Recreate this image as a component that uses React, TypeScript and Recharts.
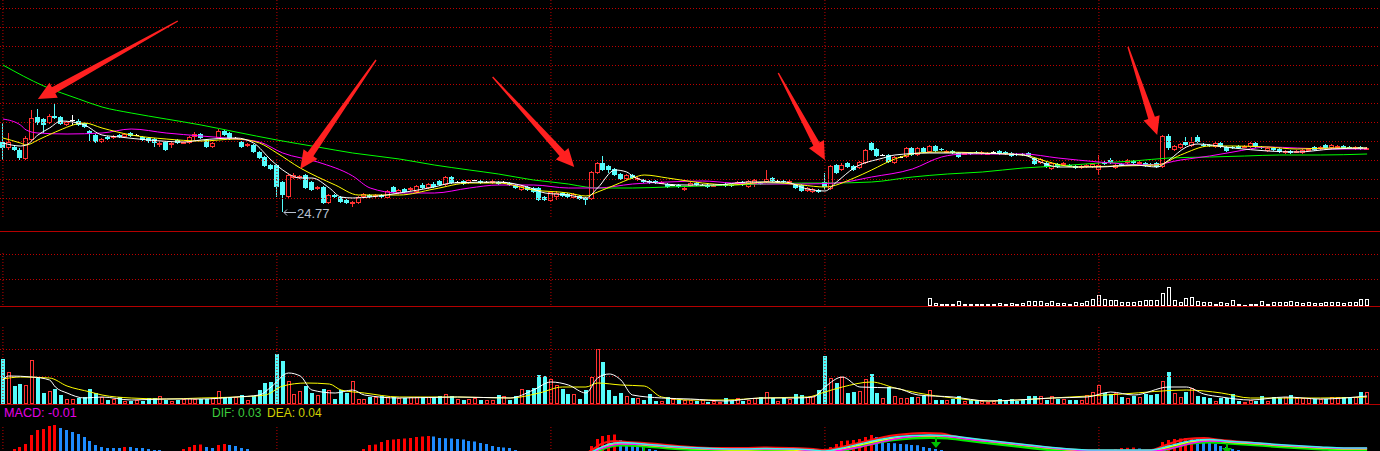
import React from 'react'
import { ComposedChart, Bar, Line, XAxis, YAxis, ReferenceLine, ReferenceDot } from 'recharts'

const W = 1380
const RED = '#ff3232'
const CYAN = '#54fcfc'
const FLAT = '#ffffff'
const GRID = '#c00000'
const SOLID = '#b40000'
const ARROW = '#ff2020'
const MACD_UP = '#ff0000'
const MACD_DOWN = '#1e8cff'
const SIGNAL = '#00c000'
const LABEL = '#b8c0d0'

// daily candles: [open, high, low, close]
const CANDLES: number[][] = [
  [31.8, 33.7, 30.0, 31.2], [31.2, 32.7, 31.0, 31.8], [31.3, 31.4, 30.9, 31.0], [31.0, 31.2, 30.0, 30.2], [30.1, 32.4, 30.0, 32.2],
  [32.0, 35.0, 31.9, 34.2], [34.3, 35.1, 33.5, 33.7], [34.1, 34.2, 32.7, 33.5], [33.7, 34.6, 33.6, 34.4], [34.4, 35.6, 34.1, 34.2],
  [34.3, 34.4, 33.5, 33.6], [33.5, 33.9, 33.4, 33.8], [34.0, 34.5, 33.5, 34.0], [33.9, 34.1, 33.4, 33.5], [33.7, 33.8, 33.2, 33.3],
  [32.9, 33.0, 31.9, 32.6], [32.5, 32.6, 31.7, 31.8], [31.8, 32.2, 31.7, 32.1], [32.3, 32.4, 32.0, 32.1], [32.2, 32.5, 32.1, 32.4],
  [32.5, 32.6, 32.2, 32.3], [32.3, 32.7, 32.2, 32.6], [32.7, 32.8, 32.3, 32.4], [32.5, 32.6, 32.4, 32.5], [32.3, 32.4, 31.9, 32.0],
  [32.2, 32.3, 31.7, 31.9], [32.1, 32.2, 31.3, 31.7], [31.5, 31.8, 31.3, 31.7], [31.8, 31.9, 30.9, 31.0], [31.5, 31.8, 31.2, 31.7],
  [32.0, 32.1, 31.6, 31.7], [31.7, 31.9, 31.6, 31.8], [31.7, 32.4, 31.6, 32.3], [32.3, 32.8, 32.0, 32.6], [32.6, 32.7, 32.1, 32.2],
  [32.0, 32.1, 31.2, 31.3], [31.3, 31.8, 31.2, 31.7], [32.2, 33.1, 32.1, 32.9], [32.9, 33.0, 32.4, 32.5], [32.7, 32.8, 32.0, 32.1],
  [32.2, 32.3, 32.1, 32.2], [31.8, 31.9, 31.2, 31.3], [31.4, 31.7, 31.3, 31.6], [31.5, 31.6, 30.7, 30.8], [30.8, 30.9, 30.1, 30.2],
  [30.3, 30.4, 29.3, 29.4], [29.5, 29.6, 29.0, 29.1], [29.5, 29.6, 26.3, 27.3], [27.8, 27.9, 24.77, 26.5], [26.3, 28.6, 26.2, 28.5],
  [28.2, 28.7, 28.1, 28.5], [28.2, 28.5, 28.1, 28.4], [28.5, 28.6, 27.1, 27.2], [27.8, 27.9, 26.9, 27.0], [27.1, 27.4, 27.0, 27.3],
  [27.3, 27.4, 25.6, 25.7], [25.7, 26.6, 25.6, 26.5], [26.5, 26.6, 26.2, 26.3], [26.3, 26.4, 25.7, 25.8], [26.0, 26.1, 25.6, 25.7],
  [25.6, 25.9, 25.3, 25.8], [25.7, 26.4, 25.6, 26.3], [26.3, 26.7, 26.2, 26.6], [26.5, 26.6, 26.2, 26.3], [26.3, 26.6, 26.2, 26.5],
  [26.5, 26.6, 26.2, 26.3], [26.2, 27.0, 26.1, 26.9], [27.3, 27.4, 26.7, 26.8], [26.7, 27.1, 26.6, 27.0], [27.1, 27.2, 26.7, 26.8],
  [27.0, 27.3, 26.9, 27.2], [26.8, 27.5, 26.7, 27.4], [27.5, 27.7, 27.1, 27.2], [27.2, 27.7, 27.1, 27.6], [27.6, 27.8, 27.2, 27.3],
  [27.9, 28.0, 27.4, 27.5], [27.5, 28.4, 27.4, 28.3], [28.3, 28.4, 27.6, 27.7], [27.8, 27.9, 27.7, 27.8], [27.9, 28.0, 27.5, 27.6],
  [27.7, 28.1, 27.6, 28.0], [28.0, 28.1, 27.9, 28.0], [27.9, 28.0, 27.6, 27.7], [27.8, 27.9, 27.7, 27.8], [27.7, 28.0, 27.6, 27.9],
  [27.8, 27.9, 27.5, 27.6], [27.8, 27.9, 27.7, 27.8], [27.7, 27.8, 27.4, 27.5], [27.5, 27.6, 27.1, 27.2], [27.0, 27.5, 26.9, 27.4],
  [27.3, 27.4, 26.9, 27.0], [27.2, 27.3, 26.7, 26.8], [27.2, 27.3, 25.9, 26.0], [26.3, 26.4, 25.9, 26.0], [25.9, 26.9, 25.8, 26.8],
  [26.3, 26.9, 26.0, 26.7], [26.7, 26.8, 26.3, 26.4], [26.6, 26.7, 26.2, 26.3], [26.2, 26.7, 26.1, 26.6], [26.4, 26.5, 26.0, 26.1],
  [26.2, 26.3, 25.5, 26.0], [26.1, 28.9, 26.0, 28.8], [28.7, 29.8, 28.6, 29.7], [29.7, 30.4, 28.9, 29.0], [29.4, 29.5, 28.7, 29.0],
  [29.1, 29.2, 28.4, 28.5], [28.6, 28.7, 28.0, 28.1], [28.1, 28.6, 28.0, 28.5], [28.5, 28.6, 28.1, 28.2], [28.0, 28.3, 27.9, 28.2],
  [28.0, 28.1, 27.7, 27.8], [27.9, 28.0, 27.6, 27.7], [27.9, 28.0, 27.6, 27.7], [27.7, 27.9, 27.6, 27.8], [27.6, 27.7, 27.2, 27.3],
  [27.5, 27.6, 27.4, 27.5], [27.5, 27.6, 27.2, 27.3], [27.0, 27.3, 26.9, 27.2], [27.4, 27.8, 27.3, 27.7], [27.7, 27.8, 27.4, 27.5],
  [27.5, 27.6, 27.4, 27.5], [27.5, 27.6, 27.2, 27.3], [27.4, 27.6, 27.3, 27.5], [27.5, 27.6, 27.4, 27.5], [27.6, 27.7, 27.3, 27.4],
  [27.5, 27.6, 27.3, 27.4], [27.6, 27.9, 27.5, 27.8], [27.8, 27.9, 27.4, 27.5], [27.3, 28.0, 27.2, 27.9], [27.6, 28.1, 27.3, 28.0],
  [27.7, 27.8, 27.5, 27.6], [27.8, 29.0, 27.7, 28.1], [28.2, 28.3, 27.8, 27.9], [27.9, 28.0, 27.8, 27.9], [27.9, 28.0, 27.7, 27.8],
  [27.8, 28.0, 27.7, 27.9], [27.5, 27.6, 27.1, 27.2], [27.5, 27.6, 26.8, 26.9], [26.9, 27.3, 26.8, 27.2], [26.8, 27.2, 26.7, 27.1],
  [27.0, 27.1, 26.7, 26.8], [27.8, 28.7, 27.0, 27.3], [27.1, 29.5, 27.0, 29.4], [29.5, 29.6, 28.6, 28.7], [29.0, 29.7, 28.9, 29.5],
  [29.7, 29.8, 29.2, 29.3], [29.4, 29.5, 28.9, 29.0], [29.2, 29.9, 29.1, 29.8], [29.7, 31.1, 29.6, 31.0], [31.7, 31.8, 30.9, 31.0],
  [31.1, 31.2, 30.3, 30.4], [30.5, 30.6, 30.4, 30.5], [30.5, 30.6, 29.7, 29.8], [29.7, 30.4, 29.6, 30.3], [30.3, 30.4, 30.2, 30.3],
  [30.3, 31.3, 30.2, 31.2], [31.2, 31.3, 30.4, 30.5], [30.5, 31.3, 30.4, 31.2], [31.2, 31.3, 30.7, 30.8], [30.8, 31.5, 30.7, 31.4],
  [31.4, 31.5, 30.8, 30.9], [31.1, 31.2, 30.9, 31.0], [30.8, 31.0, 30.7, 30.9], [30.9, 31.0, 30.6, 30.7], [30.7, 30.8, 30.2, 30.3],
  [30.6, 30.8, 30.5, 30.7], [30.7, 30.8, 30.5, 30.6], [30.8, 30.9, 30.6, 30.7], [30.6, 30.9, 30.5, 30.8], [30.6, 30.8, 30.5, 30.7],
  [30.8, 30.9, 30.7, 30.8], [30.9, 31.0, 30.5, 30.6], [30.8, 30.9, 30.5, 30.6], [30.7, 30.8, 30.3, 30.4], [30.6, 30.7, 30.4, 30.5],
  [30.6, 30.7, 30.4, 30.5], [30.7, 30.8, 30.3, 30.4], [30.2, 30.3, 29.5, 29.6], [29.7, 30.2, 29.6, 30.1], [29.7, 29.8, 29.2, 29.3],
  [29.1, 29.8, 29.0, 29.7], [29.6, 29.7, 29.2, 29.3], [29.5, 29.8, 29.4, 29.7], [29.5, 29.6, 29.3, 29.4], [29.4, 29.5, 29.1, 29.2],
  [29.2, 29.5, 29.1, 29.4], [29.3, 29.6, 29.2, 29.5], [29.3, 29.7, 29.2, 29.6], [29.0, 30.5, 28.5, 29.5], [29.8, 29.9, 29.5, 29.6],
  [30.0, 30.2, 29.6, 29.7], [29.2, 29.6, 29.1, 29.5], [29.6, 29.7, 29.4, 29.5], [29.7, 30.1, 29.6, 30.0], [29.9, 30.0, 29.6, 29.7],
  [29.7, 29.9, 29.6, 29.8], [29.7, 29.8, 29.3, 29.4], [29.6, 29.7, 29.4, 29.5], [29.7, 29.8, 29.2, 29.3], [29.3, 32.5, 29.2, 32.4],
  [32.4, 32.6, 31.0, 31.2], [31.0, 31.5, 30.9, 31.4], [31.2, 31.7, 31.1, 31.6], [31.8, 32.3, 31.4, 31.5], [31.4, 32.3, 31.3, 31.8],
  [32.3, 32.5, 31.7, 31.8], [31.5, 31.7, 31.3, 31.4], [31.5, 31.6, 31.3, 31.4], [31.3, 31.8, 31.2, 31.7], [31.7, 31.8, 31.2, 31.3],
  [31.3, 31.4, 30.8, 30.9], [31.3, 31.4, 31.1, 31.2], [31.4, 31.5, 31.1, 31.2], [31.3, 31.5, 31.2, 31.4], [31.3, 31.8, 31.2, 31.7],
  [31.7, 31.8, 31.2, 31.3], [31.3, 31.4, 31.1, 31.2], [30.9, 31.3, 30.8, 31.2], [31.2, 31.3, 30.9, 31.0], [31.1, 31.2, 30.7, 30.8],
  [30.7, 31.0, 30.6, 30.9], [30.9, 31.0, 30.6, 30.7], [30.8, 31.0, 30.7, 30.9], [30.7, 31.1, 30.6, 31.0], [31.0, 31.2, 30.9, 31.1],
  [31.3, 31.4, 30.9, 31.0], [31.1, 31.4, 31.0, 31.3], [31.5, 31.6, 31.1, 31.2], [31.2, 31.6, 31.1, 31.5], [31.3, 31.5, 31.2, 31.4],
  [31.4, 31.5, 31.1, 31.2], [31.3, 31.4, 31.1, 31.2], [31.1, 31.4, 31.0, 31.3], [31.3, 31.4, 31.0, 31.1], [31.1, 31.3, 31.0, 31.2],
]

const VOLUME = [
  45, 32, 18, 20, 19, 44, 26, 11, 13, 15,
  9, 5, 5, 6, 7, 15, 11, 7, 4, 5,
  7, 3, 3, 4, 3, 6, 6, 8, 4, 3,
  4, 5, 6, 5, 5, 5, 6, 13, 7, 6,
  7, 9, 4, 8, 14, 21, 22, 50, 43, 23,
  10, 13, 18, 11, 9, 15, 14, 5, 14, 11,
  23, 5, 5, 7, 7, 8, 7, 7, 6, 6,
  7, 7, 7, 7, 7, 8, 10, 8, 5, 4,
  5, 6, 4, 4, 4, 9, 8, 4, 8, 15,
  14, 16, 29, 28, 25, 19, 15, 10, 10, 5,
  14, 27, 55, 42, 14, 8, 11, 8, 6, 6,
  4, 10, 3, 3, 7, 5, 4, 4, 4, 3,
  4, 2, 3, 2, 6, 3, 6, 3, 4, 6,
  7, 12, 6, 3, 6, 5, 10, 9, 7, 8,
  14, 48, 26, 21, 27, 11, 12, 13, 25, 30,
  11, 6, 17, 8, 6, 6, 7, 7, 8, 14,
  4, 4, 4, 5, 8, 3, 4, 4, 3, 2,
  3, 5, 3, 5, 3, 4, 8, 8, 8, 4,
  8, 5, 5, 4, 4, 4, 9, 12, 19, 11,
  10, 11, 7, 6, 8, 7, 10, 9, 10, 23,
  32, 11, 7, 12, 16, 8, 7, 6, 3, 6,
  6, 10, 3, 2, 4, 3, 8, 3, 7, 6,
  7, 9, 6, 6, 6, 5, 5, 5, 7, 7,
  7, 7, 7, 12, 12,
]

// second indicator pane (white hollow bars), starts at candle 159
const AUX_START = 159
const AUX = [
  7.7, 2.7, 1.7, 2, 2, 5, 2, 2, 2, 2,
  2, 2, 2.7, 2, 2.7, 2, 2.7, 5, 5, 5,
  2.7, 5, 2.7, 2.7, 2, 3.7, 2.7, 5, 7, 11,
  7, 6, 6, 3.7, 3.7, 3.7, 5, 6, 6, 6,
  12.7, 18.7, 6, 3.7, 7.7, 8.7, 5, 3.7, 3.7, 2,
  3.7, 2.7, 6, 2, 1, 2, 2, 5, 2, 3.7,
  3.7, 3.7, 5, 3.7, 2.7, 3.7, 2.7, 2.7, 3.7, 3.7,
  3.7, 2.7, 3.7, 3.7, 6.7, 6.7,
]

const MACD = [
  -0.02, 0.0, 0.03, 0.05, 0.08, 0.17, 0.22, 0.23, 0.26, 0.27,
  0.24, 0.22, 0.2, 0.18, 0.15, 0.11, 0.07, 0.05, 0.04, 0.04,
  0.04, 0.05, 0.05, 0.04, 0.04, 0.03, 0.02, 0.02, 0.01, 0.0,
  0.01, 0.03, 0.05, 0.07, 0.075, 0.05, 0.04, 0.07, 0.08, 0.07,
  0.06, 0.04, 0.03, 0.01, -0.01, -0.04, -0.06, -0.1, -0.14, -0.15,
  -0.16, -0.16, -0.17, -0.17, -0.16, -0.16, -0.14, -0.12, -0.1, -0.08,
  -0.05, -0.02, 0.03, 0.07, 0.075, 0.1, 0.12, 0.125, 0.13, 0.135,
  0.14, 0.15, 0.155, 0.16, 0.155, 0.14, 0.138, 0.135, 0.13, 0.125,
  0.11, 0.105, 0.09, 0.08, 0.06, 0.05, 0.045, 0.04, 0.02, 0.01,
  -0.01, -0.03, -0.06, -0.08, -0.08, -0.09, -0.09, -0.08, -0.07, -0.06,
  -0.05, 0.06, 0.13, 0.16, 0.17, 0.175, 0.12, 0.1, 0.09, 0.07,
  0.05, 0.03, 0.02, 0.0, -0.01, -0.02, -0.03, -0.03, -0.04, -0.04,
  -0.04, -0.05, -0.05, -0.05, -0.05, -0.05, -0.05, -0.04, -0.04, -0.04,
  -0.04, -0.03, -0.03, -0.04, -0.05, -0.06, -0.07, -0.07, -0.07, -0.06,
  -0.05, -0.02, 0.05, 0.08, 0.11, 0.115, 0.12, 0.13, 0.15, 0.17,
  0.15, 0.12, 0.09, 0.088, 0.08, 0.078, 0.07, 0.068, 0.05, 0.04,
  0.03, 0.02, 0.005, -0.01, -0.02, -0.03, -0.04, -0.05, -0.05, -0.06,
  -0.06, -0.06, -0.06, -0.05, -0.05, -0.05, -0.05, -0.06, -0.06, -0.07,
  -0.07, -0.07, -0.06, -0.06, -0.05, -0.04, -0.03, -0.02, -0.01, 0.0,
  0.02, 0.03, 0.04, 0.042, 0.045, 0.035, 0.02, 0.0, -0.01, 0.1,
  0.12, 0.13, 0.135, 0.138, 0.14, 0.13, 0.12, 0.09, 0.08, 0.06,
  0.05, 0.03, 0.02, 0.0, -0.01, -0.02, -0.03, -0.03, -0.04, -0.04,
  -0.04, -0.05, -0.05, -0.05, -0.04, -0.04, -0.04, -0.03, -0.03, -0.03,
  -0.03, -0.02, -0.02, -0.02, -0.02,
]

// moving averages read at sample days: [day, value]
const MA5 = [[0, 31.7], [3, 31.4], [4, 31.5], [6, 32.5], [8, 33.2], [10, 33.9], [12, 33.8], [14, 33.5], [17, 32.5], [20, 32.3], [25, 32.0], [31, 31.8], [34, 32.0], [40, 32.2], [43, 31.7], [46, 30.0], [48, 29.0], [51, 28.2], [53, 28.2], [56, 27.2], [58, 26.3], [60, 26.2], [63, 26.3], [68, 26.7], [74, 27.3], [77, 27.7], [85, 27.8], [90, 27.3], [93, 26.7], [97, 26.5], [100, 26.2], [102, 27.2], [105, 29.0], [107, 28.8], [108, 28.4], [111, 27.8], [117, 27.5], [122, 27.5], [128, 27.8], [134, 27.8], [138, 27.1], [141, 26.9], [143, 27.8], [146, 29.2], [151, 30.2], [153, 30.5], [159, 30.7], [165, 30.7], [175, 30.5], [178, 29.8], [181, 29.3], [188, 29.3], [194, 29.5], [198, 29.3], [200, 30.0], [203, 31.3], [205, 31.6], [211, 31.2], [217, 30.9], [222, 30.8], [228, 31.1], [234, 31.2]]
const MA10 = [[0, 32.2], [3, 31.7], [4, 31.5], [6, 32.0], [9, 32.8], [14, 33.7], [17, 33.2], [22, 32.5], [28, 32.1], [34, 31.9], [40, 32.1], [44, 31.7], [47, 30.7], [51, 29.2], [54, 28.3], [57, 27.5], [61, 26.5], [68, 26.5], [74, 27.1], [80, 27.7], [85, 27.7], [91, 27.0], [97, 26.7], [100, 26.4], [102, 26.8], [105, 27.5], [108, 28.2], [110, 28.5], [114, 28.2], [120, 27.7], [125, 27.5], [131, 27.8], [137, 27.5], [141, 27.3], [146, 28.2], [149, 29.0], [153, 30.1], [157, 30.7], [161, 30.8], [168, 30.7], [175, 30.5], [180, 29.7], [184, 29.3], [191, 29.4], [198, 29.5], [202, 30.5], [207, 31.4], [211, 31.4], [217, 31.3], [222, 31.1], [228, 31.2], [234, 31.2]]
const MA20 = [[0, 34.1], [3, 33.5], [4, 33.0], [6, 32.7], [11, 32.6], [17, 32.7], [22, 33.1], [28, 32.7], [34, 32.4], [40, 32.1], [44, 31.8], [48, 30.7], [54, 29.8], [60, 28.4], [63, 27.2], [68, 26.7], [74, 26.7], [80, 27.2], [85, 27.5], [91, 27.5], [97, 27.2], [102, 27.2], [108, 27.6], [114, 27.8], [120, 27.9], [125, 27.7], [131, 27.6], [137, 27.6], [143, 27.7], [149, 28.3], [156, 29.1], [161, 30.3], [165, 30.6], [175, 30.6], [181, 30.2], [188, 29.8], [197, 29.5], [202, 30.0], [207, 30.4], [211, 30.8], [217, 31.3], [222, 31.2], [228, 31.1], [234, 31.1]]
const MA60 = [[0, 39.5], [7, 37.4], [13, 36.1], [17, 35.3], [22, 34.7], [28, 34.1], [34, 33.5], [40, 32.8], [47, 32.0], [54, 31.3], [60, 30.7], [68, 30.1], [74, 29.5], [80, 29.0], [85, 28.6], [91, 28.0], [97, 27.6], [100, 27.3], [102, 27.2], [108, 27.2], [114, 27.3], [120, 27.4], [125, 27.5], [131, 27.6], [137, 27.7], [142, 27.7], [149, 27.8], [156, 28.3], [162, 28.6], [168, 28.8], [175, 29.2], [181, 29.4], [188, 29.7], [194, 29.9], [200, 30.2], [207, 30.3], [213, 30.4], [219, 30.5], [226, 30.5], [234, 30.6]]
const VOL_MA5 = [[0, 24], [1, 28], [5, 27], [8, 24], [9, 17], [11, 11], [14, 6], [17, 7], [22, 4], [28, 5], [34, 5], [40, 7], [44, 9], [46, 17], [49, 31], [51, 28], [53, 14], [57, 11], [60, 14], [62, 9], [68, 6], [78, 7], [87, 6], [91, 14], [94, 22], [97, 19], [100, 11], [102, 26], [104, 30], [106, 24], [108, 9], [113, 6], [118, 5], [124, 3], [130, 6], [136, 6], [139, 7], [141, 17], [144, 27], [147, 17], [153, 16], [157, 9], [163, 7], [169, 3], [174, 4], [180, 6], [186, 7], [190, 12], [194, 9], [200, 17], [203, 17], [206, 10], [209, 7], [214, 4], [220, 7], [226, 5], [234, 8]]
const VOL_MA10 = [[0, 25], [3, 27], [8, 26], [11, 18], [15, 12], [17, 9], [22, 6], [28, 5], [34, 6], [40, 7], [45, 9], [48, 18], [52, 21], [56, 20], [58, 14], [62, 11], [68, 7], [78, 7], [87, 6], [92, 11], [96, 17], [100, 17], [102, 21], [106, 19], [110, 18], [113, 7], [118, 4], [124, 4], [130, 6], [138, 7], [141, 12], [144, 17], [149, 22], [153, 16], [157, 11], [163, 6], [169, 3], [180, 6], [192, 10], [203, 14], [209, 11], [214, 6], [226, 6], [234, 7]]

// coloured ribbon lines of the MACD pane
const RIB_RED = [[0, -0.06], [60, -0.05], [90, -0.03], [100, -0.01], [101, 0.02], [103, 0.09], [105, 0.11], [107, 0.1], [110, 0.09], [114, 0.07], [118, 0.05], [122, 0.04], [127, 0.04], [131, 0.045], [135, 0.04], [139, 0.03], [141, 0.02], [143, 0.04], [146, 0.08], [149, 0.12], [152, 0.16], [155, 0.18], [158, 0.19], [161, 0.185], [163, 0.16], [165, 0.14], [170, 0.105], [176, 0.065], [182, 0.03], [187, 0.015], [192, 0.015], [197, 0.02], [199, 0.06], [201, 0.1], [203, 0.13], [206, 0.14], [209, 0.12], [213, 0.1], [219, 0.065], [225, 0.045], [230, 0.035], [234, 0.035]]
const RIB_MAG = [[0, -0.07], [100, -0.03], [102, 0.02], [104, 0.06], [106, 0.08], [110, 0.075], [114, 0.055], [118, 0.04], [122, 0.03], [127, 0.03], [135, 0.03], [141, 0.0], [144, 0.02], [147, 0.05], [150, 0.09], [153, 0.13], [156, 0.155], [159, 0.165], [162, 0.155], [166, 0.125], [172, 0.09], [178, 0.05], [184, 0.02], [190, 0.01], [197, 0.01], [200, 0.03], [202, 0.06], [204, 0.09], [207, 0.11], [210, 0.105], [214, 0.09], [220, 0.065], [226, 0.045], [230, 0.035], [234, 0.035]]
const RIB_CYAN = [[0, -0.07], [90, -0.04], [100, -0.02], [102, 0.03], [104, 0.08], [106, 0.095], [110, 0.08], [114, 0.06], [118, 0.045], [122, 0.035], [127, 0.03], [131, 0.035], [135, 0.03], [139, 0.02], [141, 0.01], [144, 0.04], [147, 0.08], [150, 0.12], [153, 0.15], [156, 0.165], [159, 0.17], [162, 0.165], [165, 0.145], [170, 0.11], [176, 0.07], [182, 0.035], [187, 0.02], [192, 0.02], [197, 0.02], [200, 0.06], [202, 0.09], [204, 0.115], [207, 0.125], [210, 0.11], [214, 0.095], [220, 0.07], [226, 0.05], [230, 0.04], [234, 0.04]]
const RIB_YEL = [[0, -0.08], [90, -0.05], [100, -0.03], [102, 0.02], [104, 0.07], [106, 0.085], [110, 0.07], [114, 0.05], [118, 0.035], [122, 0.025], [127, 0.02], [131, 0.025], [135, 0.02], [139, 0.01], [141, 0.0], [144, 0.03], [147, 0.07], [150, 0.11], [153, 0.14], [156, 0.155], [159, 0.16], [162, 0.155], [165, 0.135], [170, 0.1], [176, 0.06], [182, 0.025], [187, 0.01], [192, 0.01], [197, 0.01], [200, 0.05], [202, 0.08], [204, 0.105], [207, 0.115], [210, 0.1], [214, 0.085], [220, 0.06], [226, 0.04], [230, 0.03], [234, 0.03]]
const RIB_GRN = [[0, -0.09], [90, -0.06], [100, -0.04], [102, 0.01], [104, 0.055], [106, 0.07], [110, 0.06], [114, 0.04], [118, 0.025], [122, 0.015], [127, 0.01], [131, 0.015], [135, 0.01], [139, 0.0], [141, -0.01], [144, 0.015], [147, 0.055], [150, 0.095], [153, 0.125], [156, 0.14], [159, 0.145], [162, 0.14], [165, 0.12], [170, 0.085], [176, 0.045], [182, 0.01], [187, 0.0], [192, 0.0], [197, 0.0], [200, 0.035], [202, 0.065], [204, 0.09], [207, 0.1], [210, 0.09], [214, 0.075], [220, 0.05], [226, 0.03], [230, 0.02], [234, 0.02]]

const PRICE_GRID = [45.15, 43.25, 41.35, 39.45, 37.55, 35.65, 33.75, 31.85, 29.95, 28.05, 26.15]
const AUX_GRID = [51.5, 26.5]
const VOL_GRID = [54.5, 27.5]
const DAY_LINES = [0, 47, 94, 141, 188]

// hand-drawn arrows: tail [day, price] -> tip [day, price]
const ARROWS = [
  { from: [30, 43.9], to: [6, 36.1] },
  { from: [64, 40.0], to: [51, 29.1] },
  { from: [84, 38.3], to: [98, 29.3] },
  { from: [133, 38.7], to: [141, 30.0] },
  { from: [193, 41.3], to: [198, 32.5] },
]
const LOW_MARK = { day: 48, price: 24.77 }
const SIGNALS = [{ day: 110, v: 0.05 }, { day: 160, v: 0.15 }, { day: 210, v: 0.09 }]

const SPARSE: [string, number[][]][] = [
  ['ma5', MA5], ['ma10', MA10], ['ma20', MA20], ['ma60', MA60],
  ['vma5', VOL_MA5], ['vma10', VOL_MA10],
  ['rRed', RIB_RED], ['rMag', RIB_MAG], ['rCyan', RIB_CYAN], ['rYel', RIB_YEL], ['rGrn', RIB_GRN],
]

const rows: any[] = CANDLES.map(([o, h, l, c], i) => {
  const r: any = {
    i, o, h, l, c,
    range: [l, h],
    vol: VOLUME[i],
    aux: i >= AUX_START ? AUX[i - AUX_START] : null,
    macd: MACD[i],
    up: i > 0 && MACD[i] > MACD[i - 1],
  }
  SPARSE.forEach(([k]) => { r[k] = null })
  return r
})
SPARSE.forEach(([k, pts]) => pts.forEach(([i, v]) => { rows[i][k] = v }))

const M = { top: 0, right: 0, bottom: 0, left: 0 }

function Candle(props: any) {
  const { x, y, width, height, payload } = props
  if (x == null || !payload) return null
  const { o, h, l, c } = payload
  const top = Math.min(y, y + height)
  const k = h > l ? Math.abs(height) / (h - l) : 0
  const yOf = (v: number) => top + (h - v) * k
  const x0 = Math.round(x + width / 2 - 2.5)
  const mid = x0 + 2.5
  const bTop = Math.round(yOf(Math.max(o, c)))
  const bBot = Math.round(yOf(Math.min(o, c)))
  const wTop = Math.round(yOf(h))
  const wBot = Math.round(yOf(l))
  if (c > o) {
    return (
      <g>
        <line x1={mid} x2={mid} y1={wTop} y2={bTop} stroke={RED} />
        <line x1={mid} x2={mid} y1={bBot} y2={wBot} stroke={RED} />
        <rect x={x0 + 0.5} y={bTop + 0.5} width={4} height={Math.max(bBot - bTop - 1, 1)} fill="none" stroke={RED} />
      </g>
    )
  }
  if (c < o) {
    return (
      <g>
        <line x1={mid} x2={mid} y1={wTop} y2={wBot} stroke={CYAN} />
        <rect x={x0} y={bTop} width={5} height={Math.max(bBot - bTop, 1)} fill={CYAN} />
      </g>
    )
  }
  return (
    <g>
      <line x1={mid} x2={mid} y1={wTop} y2={wBot} stroke={FLAT} />
      <line x1={x0} x2={x0 + 5} y1={bTop + 0.5} y2={bTop + 0.5} stroke={FLAT} />
    </g>
  )
}

function VolBar(props: any) {
  const { x, y, width, height, payload } = props
  if (x == null || !payload) return null
  const x0 = Math.round(x + width / 2 - 2)
  const top = Math.round(Math.min(y, y + height))
  const bot = Math.round(Math.max(y, y + height))
  if (payload.c >= payload.o) {
    return <rect x={x0 + 0.5} y={top + 0.5} width={3} height={Math.max(bot - top - 1, 1)} fill="none" stroke={RED} />
  }
  return <rect x={x0} y={top} width={4} height={Math.max(bot - top, 1)} fill={CYAN} />
}

function AuxBar(props: any) {
  const { x, y, width, height } = props
  if (x == null) return null
  const x0 = Math.round(x + width / 2 - 2)
  const top = Math.round(Math.min(y, y + height))
  const bot = Math.round(Math.max(y, y + height))
  return <rect x={x0 + 0.5} y={top + 0.5} width={3} height={Math.max(bot - top - 1, 1)} fill="none" stroke="#ffffff" />
}

function MacdBar(props: any) {
  const { x, y, width, height, payload } = props
  if (x == null || !payload) return null
  const x0 = Math.round(x + width / 2 - 1.5)
  const top = Math.min(y, y + height)
  return <rect x={x0} y={top} width={3} height={Math.abs(height)} fill={payload.up ? MACD_UP : MACD_DOWN} />
}

function ArrowShape(props: any) {
  const { x1, y1, x2, y2 } = props
  if (x1 == null) return null
  const dx = x2 - x1
  const dy = y2 - y1
  const len = Math.hypot(dx, dy) || 1
  const ux = dx / len
  const uy = dy / len
  const nx = -uy
  const ny = ux
  const head = 18
  const hw = 8.5
  const sw = 3.5
  const tw = 0.7
  const bx = x2 - ux * head
  const by = y2 - uy * head
  const pts = [
    [x1 + nx * tw, y1 + ny * tw],
    [bx + nx * sw, by + ny * sw],
    [bx + nx * hw, by + ny * hw],
    [x2, y2],
    [bx - nx * hw, by - ny * hw],
    [bx - nx * sw, by - ny * sw],
    [x1 - nx * tw, y1 - ny * tw],
  ]
  return <polygon points={pts.map((p) => p.join(',')).join(' ')} fill={ARROW} />
}

function LowLabel(props: any) {
  const { cx, cy } = props
  if (cx == null) return null
  const x = Math.round(cx) + 1
  const yy = Math.round(cy) + 0.5
  return (
    <g>
      <line x1={x} y1={yy} x2={x + 12} y2={yy} stroke={LABEL} />
      <polyline points={`${x + 3},${yy - 3} ${x},${yy} ${x + 3},${yy + 3}`} fill="none" stroke={LABEL} />
      <text x={x + 13} y={yy + 5} fill={LABEL} fontSize={13} fontFamily="Arial, 'Liberation Sans', sans-serif">
        {LOW_MARK.price.toFixed(2)}
      </text>
    </g>
  )
}

function SignalShape(props: any) {
  const { cx, cy } = props
  if (cx == null) return null
  const x = Math.round(cx)
  return (
    <g>
      <rect x={x - 1} y={cy} width={2} height={6} fill={SIGNAL} />
      <polygon points={`${x - 5},${cy + 5} ${x + 5},${cy + 5} ${x},${cy + 11}`} fill={SIGNAL} />
    </g>
  )
}

const lineProps = { dot: false, activeDot: false, isAnimationActive: false, connectNulls: true, type: 'monotone' as const }

export default function App() {
  const textStyle = { position: 'absolute' as const, top: 406, fontFamily: 'Arial, "Liberation Sans", sans-serif', lineHeight: '15px', whiteSpace: 'pre' as const }
  return (
    <div style={{ position: 'absolute', left: 0, top: 0, width: W, height: 451, background: '#000', overflow: 'hidden' }}>
      <div style={{ position: 'absolute', left: 0, top: 0 }}>
        <ComposedChart width={W} height={231} data={rows} margin={M} barCategoryGap={0}>
          <XAxis dataKey="i" hide padding={{ left: 0, right: 10 }} />
          <YAxis hide domain={[22.9, 46]} allowDataOverflow />
          {PRICE_GRID.map((v) => (
            <ReferenceLine key={'g' + v} y={v} stroke={GRID} strokeDasharray="1 2" />
          ))}
          {DAY_LINES.map((d) => (
            <ReferenceLine key={'d' + d} segment={[{ x: d, y: 46 }, { x: d, y: 24.2 }]} stroke={GRID} strokeDasharray="1 2" />
          ))}
          <Bar dataKey="range" barSize={5} shape={Candle} isAnimationActive={false} />
          <Line dataKey="ma60" stroke="#00ff00" {...lineProps} />
          <Line dataKey="ma20" stroke="#ff00ff" {...lineProps} />
          <Line dataKey="ma10" stroke="#ffff00" {...lineProps} />
          <Line dataKey="ma5" stroke="#ffffff" {...lineProps} />
          {ARROWS.map((a, k) => (
            <ReferenceLine
              key={'a' + k}
              segment={[{ x: a.from[0], y: a.from[1] }, { x: a.to[0], y: a.to[1] }]}
              shape={ArrowShape}
              ifOverflow="visible"
            />
          ))}
          <ReferenceDot x={LOW_MARK.day} y={LOW_MARK.price} r={0} shape={LowLabel} ifOverflow="visible" />
        </ComposedChart>
      </div>

      <div style={{ position: 'absolute', left: 0, top: 231 }}>
        <ComposedChart width={W} height={75} data={rows} margin={M} barCategoryGap={0}>
          <XAxis dataKey="i" hide padding={{ left: 0, right: 10 }} />
          <YAxis hide domain={[0, 75]} allowDataOverflow />
          {AUX_GRID.map((v) => (
            <ReferenceLine key={'g' + v} y={v} stroke={GRID} strokeDasharray="1 2" />
          ))}
          {DAY_LINES.map((d) => (
            <ReferenceLine key={'d' + d} segment={[{ x: d, y: 53 }, { x: d, y: 0 }]} stroke={GRID} strokeDasharray="1 2" />
          ))}
          <Bar dataKey="aux" barSize={4} shape={AuxBar} isAnimationActive={false} />
        </ComposedChart>
      </div>

      <div style={{ position: 'absolute', left: 0, top: 306 }}>
        <ComposedChart width={W} height={98} data={rows} margin={M} barCategoryGap={0}>
          <XAxis dataKey="i" hide padding={{ left: 0, right: 10 }} />
          <YAxis hide domain={[0, 98]} allowDataOverflow />
          {VOL_GRID.map((v) => (
            <ReferenceLine key={'g' + v} y={v} stroke={GRID} strokeDasharray="1 2" />
          ))}
          {DAY_LINES.map((d) => (
            <ReferenceLine key={'d' + d} segment={[{ x: d, y: 77 }, { x: d, y: 0 }]} stroke={GRID} strokeDasharray="1 2" />
          ))}
          <Bar dataKey="vol" barSize={4} shape={VolBar} isAnimationActive={false} />
          <Line dataKey="vma10" stroke="#ffff00" {...lineProps} />
          <Line dataKey="vma5" stroke="#ffffff" {...lineProps} />
        </ComposedChart>
      </div>

      <div style={{ position: 'absolute', left: 0, top: 404 }}>
        <ComposedChart width={W} height={56} data={rows} margin={M} barCategoryGap={0}>
          <XAxis dataKey="i" hide padding={{ left: 0, right: 10 }} />
          <YAxis hide domain={[-0.08, 0.48]} allowDataOverflow />
          {DAY_LINES.map((d) => (
            <ReferenceLine key={'d' + d} segment={[{ x: d, y: 0.25 }, { x: d, y: -0.08 }]} stroke={GRID} strokeDasharray="1 2" />
          ))}
          <Bar dataKey="macd" barSize={3} shape={MacdBar} isAnimationActive={false} />
          <Line dataKey="rRed" stroke="#ff1010" strokeWidth={2} {...lineProps} />
          <Line dataKey="rGrn" stroke="#00ee00" strokeWidth={3} {...lineProps} />
          <Line dataKey="rYel" stroke="#ffff00" strokeWidth={1.5} {...lineProps} />
          <Line dataKey="rMag" stroke="#ff00ff" strokeWidth={1.5} {...lineProps} />
          <Line dataKey="rCyan" stroke="#40f0f0" strokeWidth={1.5} {...lineProps} />
          {SIGNALS.map((s) => (
            <ReferenceDot key={'s' + s.day} x={s.day} y={s.v} r={0} shape={SignalShape} ifOverflow="visible" />
          ))}
        </ComposedChart>
      </div>

      <div style={{ position: 'absolute', left: 0, top: 231, width: W, height: 1, background: SOLID }} />
      <div style={{ position: 'absolute', left: 0, top: 306, width: W, height: 1, background: SOLID }} />
      <div style={{ position: 'absolute', left: 0, top: 404, width: W, height: 1, background: SOLID }} />

      <div style={{ ...textStyle, left: 4, fontSize: 12.6, color: '#e600e6' }}>MACD: -0.01</div>
      <div style={{ ...textStyle, left: 212, fontSize: 12, color: '#3ccc3c' }}>DIF: 0.03</div>
      <div style={{ ...textStyle, left: 267, fontSize: 12, color: '#d2d200' }}>DEA: 0.04</div>
    </div>
  )
}
